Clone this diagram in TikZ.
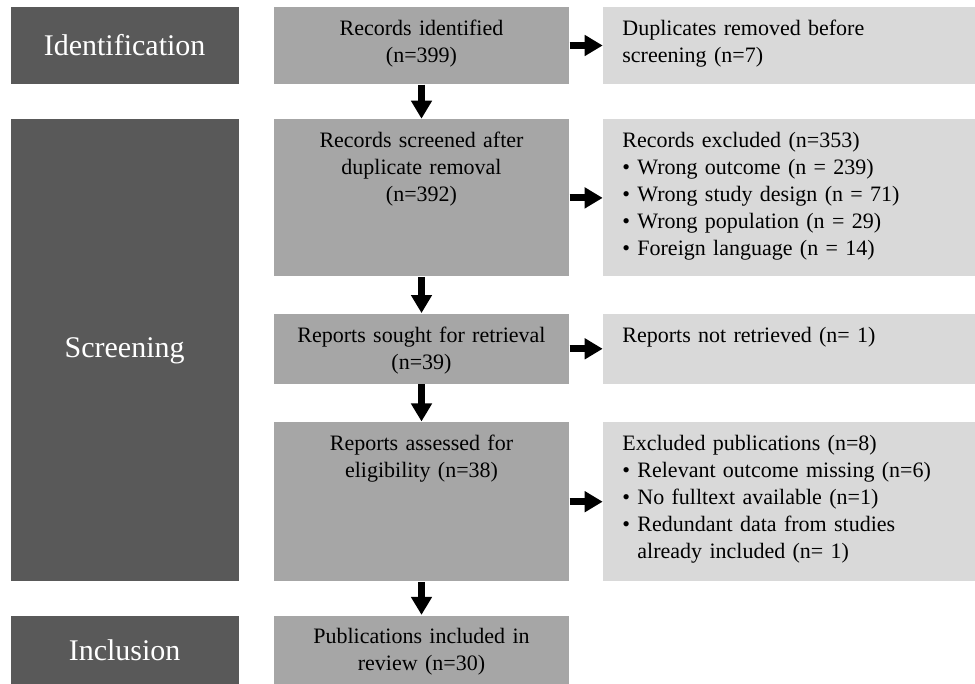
\documentclass[tikz,border=0pt]{standalone}
\usepackage{fontspec}
\setmainfont{Liberation Serif}
\usetikzlibrary{positioning, arrows.meta}

\definecolor{stagegray}{HTML}{595959}
\definecolor{flowgray}{HTML}{A6A6A6}
\definecolor{sidegray}{HTML}{D9D9D9}

\begin{document}
\begin{tikzpicture}[auto,node distance=35pt,>={Triangle[length=18pt,width=20pt]},font=\fontsize{22}{27}\selectfont]

	\tikzstyle{stage}=[fill=stagegray,text=white,minimum width=228pt,inner sep=0pt,font=\fontsize{30}{36}\selectfont]
	\tikzstyle{flow}=[fill=flowgray,minimum width=295pt,inner sep=0pt]
	\tikzstyle{side}=[fill=sidegray,minimum width=372pt,inner sep=0pt]
	\tikzstyle{flowtext}=[align=center,text width=285pt,inner sep=0pt]
	\tikzstyle{sidetext}=[align=left,text width=350pt,inner sep=0pt]
	\tikzstyle{arrow}=[->,line width=7pt,shorten <=0.5pt,shorten >=0.5pt]

	\useasboundingbox (0,0) rectangle (975pt,-684pt);

	% middle column
	\node[flow,minimum height=77pt] (ident) at (421.5pt,-45.5pt) {};
	\node[flow,minimum height=157pt,below=35pt of ident] (screen) {};
	\node[flow,minimum height=70pt,below=37pt of screen] (sought) {};
	\node[flow,minimum height=159pt,below=38pt of sought] (assess) {};
	\node[flow,minimum height=70pt,below=34pt of assess] (incl) {};

	% right column
	\node[side,minimum height=77pt,right=34pt of ident] (dupl) {};
	\node[side,minimum height=157pt,right=34pt of screen] (excl) {};
	\node[side,minimum height=70pt,right=34pt of sought] (notret) {};
	\node[side,minimum height=159pt,right=34pt of assess] (exclpub) {};

	% stages
	\node[stage,minimum height=77pt,left=35pt of ident] (lident) {Identification};
	\node[stage,minimum height=462pt,below left=0pt and 35pt of screen.north west] (lscreen) {Screening};
	\node[stage,minimum height=70pt,left=35pt of incl] (lincl) {Inclusion};

	% texts
	\node[flowtext,below=13pt of ident.north] (identtxt) {Records identified\\(n=399)};
	\node[flowtext,below=13pt of screen.north] (screentxt) {Records screened after\\duplicate removal\\(n=392)};
	\node[flowtext,below=13pt of sought.north] (soughttxt) {Reports sought for retrieval\\(n=39)};
	\node[flowtext,below=13pt of assess.north] (assesstxt) {Reports assessed for\\eligibility (n=38)};
	\node[flowtext,below=13pt of incl.north] (incltxt) {Publications included in\\review (n=30)};

	\node[sidetext,below right=13pt and 19pt of dupl.north west] (dupltxt) {Duplicates removed before\\screening (n=7)};
	\node[sidetext,below right=13pt and 19pt of excl.north west] (excltxt) {Records excluded (n=353)\\
		\textbullet\ Wrong outcome (n = 239)\\
		\textbullet\ Wrong study design (n = 71)\\
		\textbullet\ Wrong population (n = 29)\\
		\textbullet\ Foreign language (n = 14)};
	\node[sidetext,below right=13pt and 19pt of notret.north west] (notrettxt) {Reports not retrieved (n= 1)};
	\node[sidetext,below right=13pt and 19pt of exclpub.north west] (exclpubtxt) {Excluded publications (n=8)\\
		\textbullet\ Relevant outcome missing (n=6)\\
		\textbullet\ No fulltext available (n=1)\\
		\textbullet\ Redundant data from studies\\
		\phantom{\textbullet\ }already included (n= 1)};

	% arrows
	\draw[arrow] (ident) -- (screen);
	\draw[arrow] (screen) -- (sought);
	\draw[arrow] (sought) -- (assess);
	\draw[arrow] (assess) -- (incl);
	\draw[arrow] (ident) -- (dupl);
	\draw[arrow] (screen) -- (excl);
	\draw[arrow] (sought) -- (notret);
	\draw[arrow] (assess) -- (exclpub);
	\end{tikzpicture}
\end{document}
